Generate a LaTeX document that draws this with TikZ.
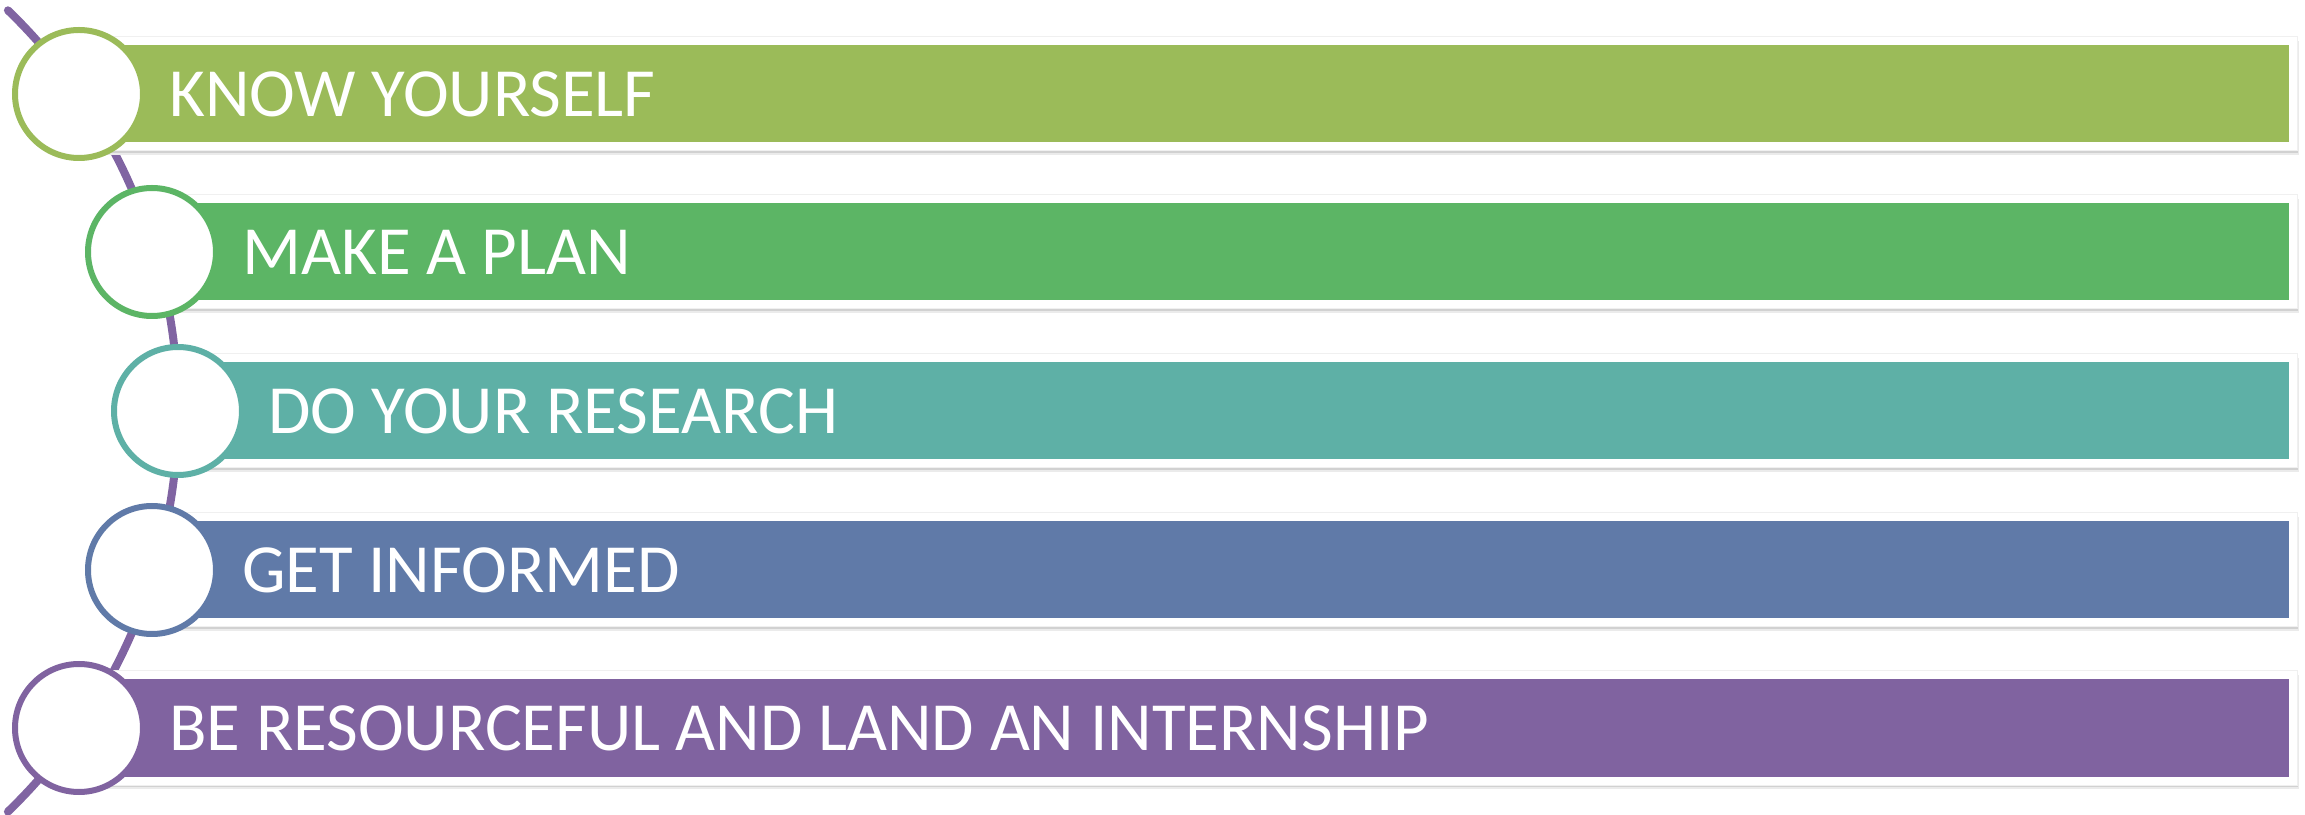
\documentclass[tikz,border=0pt]{standalone}
\usepackage{fontspec}
\setmainfont{Carlito}
\definecolor{olivebar}{RGB}{155,187,89}
\definecolor{greenbar}{RGB}{92,181,101}
\definecolor{tealbar}{RGB}{94,176,166}
\definecolor{bluebar}{RGB}{96,122,168}
\definecolor{purplebar}{RGB}{128,99,160}
\definecolor{spine}{RGB}{128,100,162}
\begin{document}
\begin{tikzpicture}[x=1pt,y=1pt,
  stepframe/.style={fill=white,draw=black!6,line width=1pt},
  stepdot/.style={circle,fill=white,line width=6pt,minimum size=128pt,inner sep=0pt},
  steptext/.style={text=white,anchor=west,inner sep=0pt,font=\fontsize{69}{80}\selectfont}]
\useasboundingbox (0,0) rectangle (2305,814);
% curved spine behind the steps
\coordinate (hub) at (-379,403);
\draw[spine,line width=8pt,line cap=round] ([shift={(-46:557)}]hub) arc[start angle=-46,end angle=46,radius=557];
% steps
\foreach \i/\x/\y/\col/\txt in {1/79/720/olivebar/KNOW YOURSELF,
  2/152/562/greenbar/MAKE A PLAN,
  3/178/403/tealbar/DO YOUR RESEARCH,
  4/152/244/bluebar/GET INFORMED,
  5/79/86/purplebar/BE RESOURCEFUL AND LAND AN INTERNSHIP}
{
  \fill[black!8] (\x,\y-61) rectangle (2299,\y+53);
  \fill[black!18] (\x,\y-59) rectangle (2298,\y+55);
  \filldraw[stepframe] (\x,\y-57) rectangle (2297,\y+57);
  \fill[\col] (\x,\y-48.5) rectangle (2289,\y+48.5);
  \node[stepdot,draw=\col] (c\i) at (\x,\y) {};
  \node[steptext] (t\i) at (\x+90,\y) {\txt};
}
\end{tikzpicture}
\end{document}
